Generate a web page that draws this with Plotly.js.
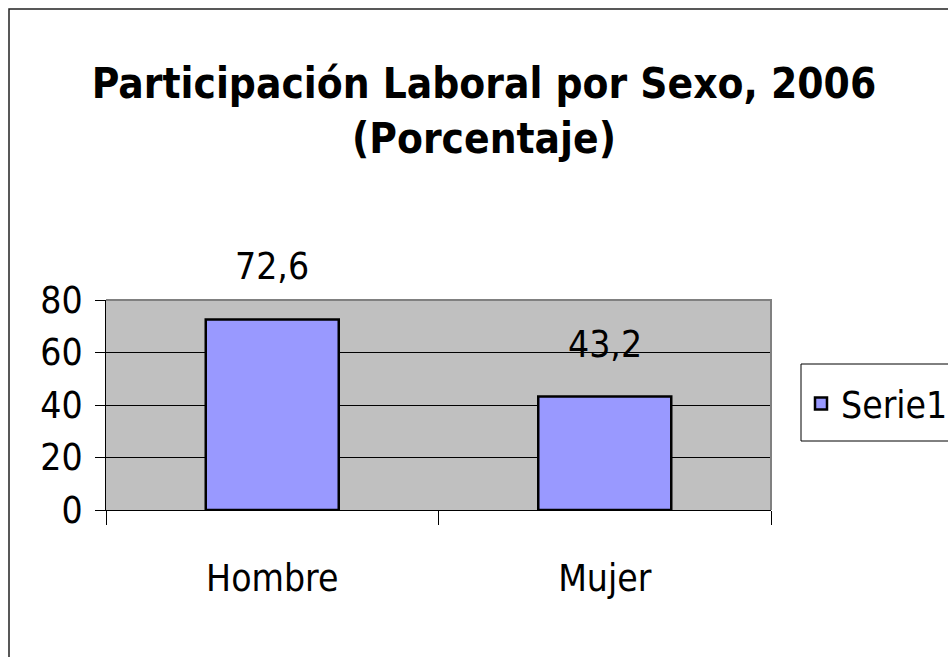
<!DOCTYPE html>
<html>
<head>
<meta charset="utf-8">
<script src="https://cdn.plot.ly/plotly-3.0.1.min.js"></script>
<style>
  body { margin: 0; background: #fff; }
  #chartPanel { width: 948px; height: 657px; }
</style>
</head>
<body>
<div id="chartPanel"></div>
<script>
// data
var categories = ['Hombre', 'Mujer'];
var values = [72.6, 43.2];
var seriesName = 'Serie1';
var yTicks = [0, 20, 40, 60, 80];

const chartPanel = document.querySelector('#chartPanel');
// no narrow arial here, condensed dejavu is the closest thing
const narrow = '"Liberation Sans Narrow", "Arial Narrow", "DejaVu Sans Condensed", sans-serif';

// plot area in pixels (margins)
const m = { l: 106, r: 177, t: 300, b: 147, autoexpand: false };
const plotW = 948 - m.l - m.r;
const plotH = 657 - m.t - m.b;

var trace = {
  x: categories,
  y: values,
  type: 'bar',
  name: seriesName,
  marker: {
    color: '#9999FF',
    line: { color: '#000000', width: 2.5 }
  },
  hoverinfo: 'none'
};

// value labels sit well above the bars, like the excel original
var labels = categories.map((c, i) => {
  return {
    x: c,
    y: values[i],
    xref: 'x',
    yref: 'y',
    text: String(values[i]).replace('.', ','),
    showarrow: false,
    yanchor: 'bottom',
    yshift: 29,
    font: { family: narrow, size: 37, color: '#000' }
  };
});

var layout = {
  width: 948,
  height: 657,
  margin: m,
  paper_bgcolor: '#ffffff',
  plot_bgcolor: '#C0C0C0',
  separators: ',.',
  bargap: 0.6,
  showlegend: true,
  font: { family: narrow, size: 37, color: '#000' },
  title: {
    text: '<b>Participación Laboral por Sexo, 2006<br>(Porcentaje)</b>',
    font: { family: narrow, size: 42, color: '#000' },
    x: 484 / 948,
    xanchor: 'center',
    xref: 'container',
    y: 1 - 98 / 657,
    yanchor: 'top',
    yref: 'container'
  },
  xaxis: {
    type: 'category',
    showline: true,
    linecolor: '#000',
    linewidth: 1,
    ticks: 'outside',
    tickson: 'boundaries',
    ticklen: 14,
    tickcolor: '#000',
    ticklabelstandoff: 36,
    tickfont: { family: narrow, size: 37 },
    showgrid: false
  },
  yaxis: {
    range: [0, 80],
    tickvals: yTicks,
    showline: true,
    linecolor: '#000',
    linewidth: 1,
    ticks: 'outside',
    ticklen: 10,
    tickcolor: '#000',
    ticklabelstandoff: 5,
    tickfont: { family: narrow, size: 37 },
    showgrid: true,
    gridcolor: '#000',
    gridwidth: 1,
    zeroline: false
  },
  legend: {
    x: (801 - m.l) / plotW,
    xanchor: 'left',
    y: (510 - 404) / plotH,
    yanchor: 'middle',
    bgcolor: 'rgba(0,0,0,0)',
    borderwidth: 0,
    font: { family: narrow, size: 37, color: '#000' }
  },
  annotations: labels,
  shapes: [
    // gray frame on top and right of the plot area
    { type: 'path', xref: 'paper', yref: 'paper', path: 'M 0,1 L 1,1 L 1,0', line: { color: '#808080', width: 2 } },
    // legend box
    { type: 'rect', xref: 'paper', yref: 'paper', x0: (801 - m.l) / plotW, x1: (960 - m.l) / plotW, y0: (510 - 441) / plotH, y1: (510 - 364) / plotH, line: { color: '#000', width: 1 } },
    // outer chart border, runs off the right and bottom
    { type: 'path', xref: 'paper', yref: 'paper', path: 'M ' + ((9 - m.l) / plotW) + ',-2 L ' + ((9 - m.l) / plotW) + ',' + ((510 - 9) / plotH) + ' L 2,' + ((510 - 9) / plotH), line: { color: '#222', width: 1.5 } }
  ]
};

Plotly.newPlot(chartPanel, [trace], layout, { staticPlot: true });
</script>
</body>
</html>
